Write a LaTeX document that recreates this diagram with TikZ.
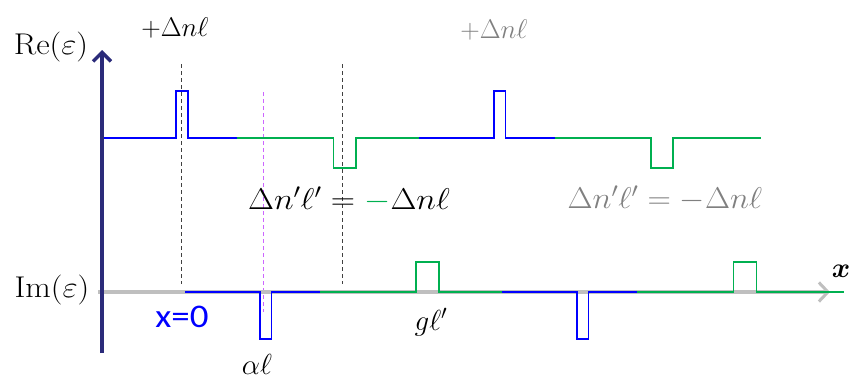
\RequirePackage{fix-cm}
\documentclass[tikz,border=0pt]{standalone}
\usepackage{amsmath,bm,graphicx}
\usepackage{fontspec}
\newfontfamily\calib{Carlito}
\usetikzlibrary{arrows.meta}
\definecolor{navy}{HTML}{2B2B7A}
\definecolor{sigblue}{HTML}{0000FF}
\definecolor{siggreen}{HTML}{00B050}
\definecolor{axgray}{HTML}{BFBFBF}
\definecolor{txtgray}{HTML}{808080}
\definecolor{viol}{HTML}{CC66FF}
\newcommand{\hs}[2][1.1]{\scalebox{#1}[1]{#2}}
\tikzset{
  bl/.style={draw=sigblue, line width=1.4pt},
  gr/.style={draw=siggreen, line width=1.4pt},
  guide/.style={draw=black!75, dashed, dash pattern=on 4pt off 3pt, line width=0.9pt},
  lbl/.style={inner sep=0pt},
}
\begin{document}
\begin{tikzpicture}[x=1pt,y=-1pt]
\useasboundingbox (0,0) rectangle (852,380);
% guide lines
\coordinate (g1t) at (181.5,64); \coordinate (g1b) at (181.5,284);
\coordinate (g2t) at (342,64); \coordinate (g2b) at (342,284);
\coordinate (vt) at (263,92); \coordinate (vb) at (263,312);
\draw[guide] (g1t) -- (g1b);
\draw[guide] (g2t) -- (g2b);
\draw[draw=viol, dashed, dash pattern=on 4pt off 3pt, line width=0.9pt] (vt) -- (vb);
% Im axis
\coordinate (imL) at (98,292); \coordinate (imR) at (830,292);
\draw[axgray, line width=3.5pt, -{Straight Barb[length=9pt,width=19pt,line width=3pt]}] (imL) -- (imR);
% Re signal
\draw[bl] (102,138) -- (176,138) -- (176,91) -- (188,91) -- (188,138) -- (237,138);
\draw[gr] (237,138) -- (333.5,138) -- (333.5,168) -- (356,168) -- (356,138) -- (419,138);
\draw[bl] (419,138) -- (494,138) -- (494,91) -- (505.5,91) -- (505.5,138) -- (555,138);
\draw[gr] (555,138) -- (651,138) -- (651,168) -- (673,168) -- (673,138) -- (761,138);
% Im signal
\draw[bl] (185,292) -- (260,292) -- (260,339) -- (271.5,339) -- (271.5,292) -- (320,292);
\draw[gr] (320,292) -- (416,292) -- (416,262) -- (439,262) -- (439,292) -- (502,292);
\draw[bl] (502,292) -- (577,292) -- (577,339) -- (588.5,339) -- (588.5,292) -- (637,292);
\draw[gr] (637,292) -- (733.5,292) -- (733.5,262) -- (756.5,262) -- (756.5,292) -- (844,292);
% Re axis
\coordinate (reB) at (102,353); \coordinate (reT) at (102,50);
\draw[navy, line width=3.8pt, -{Straight Barb[length=9pt,width=18pt,line width=3.4pt]}] (reB) -- (reT);
% labels
\node[lbl, font=\fontsize{30}{34}\selectfont] (re) at (51,47) {\hs{Re$(\varepsilon)$}};
\node[lbl, font=\fontsize{30}{34}\selectfont] (im) at (52,290) {\hs{Im$(\varepsilon)$}};
\node[lbl, font=\fontsize{27}{30}\selectfont] (d1) at (175,28) {$+\Delta n\ell$};
\node[lbl, font=\fontsize{27}{30}\selectfont, text=txtgray] (d2) at (494,30) {$+\Delta n\ell$};
\node[lbl, font=\fontsize{30}{34}\selectfont] (eq1) at (349,199) {\hs[1.12]{$\Delta n'\ell' = {\color{siggreen}-}\Delta n\ell$}};
\node[lbl, font=\fontsize{30}{34}\selectfont, text=txtgray] (eq2) at (665,198) {\hs[1.08]{$\Delta n'\ell' = -\Delta n\ell$}};
\node[lbl, text=sigblue, font=\fontsize{33}{36}\calib] (x0) at (182,317) {\hs[1.12]{x=0}};
\node[lbl, font=\fontsize{29}{32}\selectfont] (al) at (257,364) {$\alpha\ell$};
\node[lbl, font=\fontsize{29}{32}\selectfont] (gl) at (431,322) {$g\ell'$};
\node[lbl, font=\fontsize{28}{32}\selectfont] (xl) at (841,271) {$\bm{x}$};
\end{tikzpicture}
\end{document}
